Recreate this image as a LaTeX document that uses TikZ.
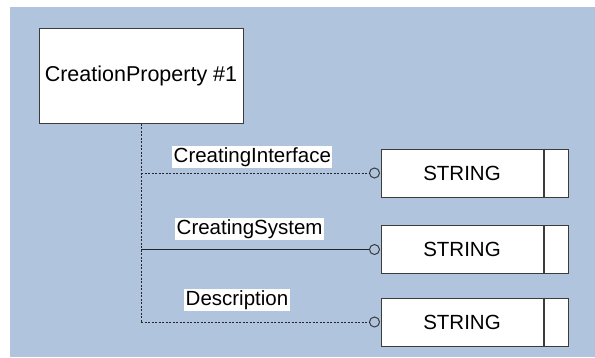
\documentclass[tikz,border=0pt]{standalone}
\usepackage{fontspec}
\setmainfont{Liberation Sans}
\usepackage{xcolor}
\usetikzlibrary{positioning}
\definecolor{steelbg}{RGB}{176,196,222}
\definecolor{edgegray}{RGB}{60,60,60}

\begin{document}
\begin{tikzpicture}[
  x=1pt,y=-1pt,
  font=\fontsize{20.5}{24}\selectfont,
  entity/.style={draw=edgegray,line width=1pt,fill=white,minimum width=204pt,minimum height=95pt,inner sep=0pt,font=\fontsize{21.5}{25}\selectfont},
  valbox/.style={draw=edgegray,line width=1pt,fill=white,minimum width=162pt,minimum height=48pt,inner sep=0pt},
  valtail/.style={draw=edgegray,line width=1pt,fill=white,minimum width=24pt,minimum height=48pt,inner sep=0pt},
  endcirc/.style={circle,draw=edgegray,line width=1pt,fill=steelbg,minimum size=10pt,inner sep=0pt},
  attr/.style={fill=white,inner sep=1.5pt,anchor=west},
  link/.style={line width=1pt,black!85},
  dlink/.style={link,dash pattern=on 2pt off 1.5pt}
]
\useasboundingbox (0,0) rectangle (595,357);
\fill[steelbg] (10,7) rectangle (595,357);

\node[entity] (prop) at (141,75.5) {CreationProperty \#1};

\node[valbox] (str1) at (462,173) {STRING};
\node[valtail,right=0pt of str1] (str1e) {};
\node[valbox] (str2) at (462,249.5) {STRING};
\node[valtail,right=0pt of str2] (str2e) {};
\node[valbox] (str3) at (462,322) {STRING};
\node[valtail,right=0pt of str3] (str3e) {};
\foreach \n in {str1,str2,str3}
  \draw[edgegray,line width=2pt] (\n.north east) -- (\n.south east);

\node[endcirc,left=0.5pt of str1] (c1) {};
\node[endcirc,left=0.5pt of str2] (c2) {};
\node[endcirc,left=0.5pt of str3] (c3) {};

\draw[dlink] (prop.south) -- (prop.south |- c3);
\draw[dlink] (prop.south |- c1) -- (c1.west);
\draw[link] (prop.south |- c2) -- (c2.west);
\draw[dlink] (prop.south |- c3) -- (c3.west);

\node[attr] (a1) at (172,157) {CreatingInterface};
\node[attr] (a2) at (175,229) {CreatingSystem};
\node[attr] (a3) at (184,300) {Description};
\end{tikzpicture}
\end{document}
